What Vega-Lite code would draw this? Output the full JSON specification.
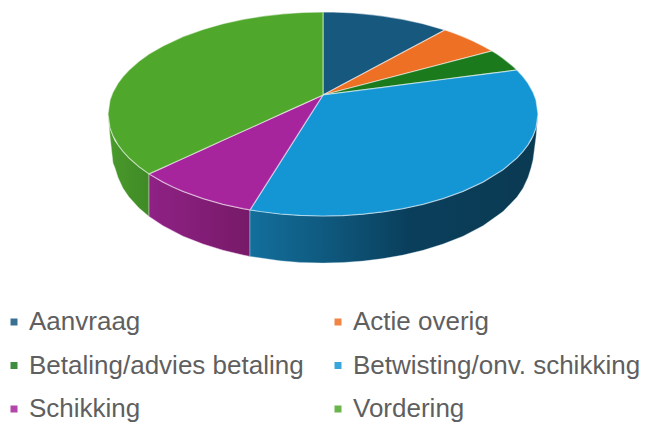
{
"$schema":"https://vega.github.io/schema/vega-lite/v6.json",
"width":652,"height":425,"padding":0,"autosize":{"type":"none"},
"background":"white","view":{"stroke":null},
"datasets":{
"top":[
{"slice":"Aanvraag","x":323,"y":12,"y2":95},{"slice":"Aanvraag","x":333,"y":12.1,"y2":89.7},{"slice":"Aanvraag","x":343,"y":12.4,"y2":84.3},{"slice":"Aanvraag","x":353,"y":13,"y2":79},{"slice":"Aanvraag","x":363,"y":13.8,"y2":73.7},{"slice":"Aanvraag","x":373,"y":14.8,"y2":68.4},{"slice":"Aanvraag","x":383,"y":16.1,"y2":63},{"slice":"Aanvraag","x":403,"y":19.3,"y2":52.4},{"slice":"Aanvraag","x":423,"y":23.7,"y2":41.7},{"slice":"Aanvraag","x":443,"y":29.4,"y2":31},{"slice":"Aanvraag","x":445,"y":30,"y2":30},
{"slice":"Actie overig","x":323,"y":95,"y2":95},{"slice":"Actie overig","x":445,"y":30,"y2":63.3},{"slice":"Actie overig","x":453,"y":32.8,"y2":61.2},{"slice":"Actie overig","x":463,"y":36.6,"y2":58.6},{"slice":"Actie overig","x":473,"y":40.9,"y2":56},{"slice":"Actie overig","x":483,"y":45.9,"y2":53.4},{"slice":"Actie overig","x":492,"y":51,"y2":51},
{"slice":"Betaling/advies betaling","x":323,"y":95,"y2":95},{"slice":"Betaling/advies betaling","x":492,"y":51,"y2":73.2},{"slice":"Betaling/advies betaling","x":497,"y":54.1,"y2":72.6},{"slice":"Betaling/advies betaling","x":503,"y":58.2,"y2":71.8},{"slice":"Betaling/advies betaling","x":513,"y":66.3,"y2":70.5},{"slice":"Betaling/advies betaling","x":517,"y":70,"y2":70},
{"slice":"Betwisting/onv. schikking","x":250,"y":209.9,"y2":209.9},{"slice":"Betwisting/onv. schikking","x":260,"y":194.2,"y2":211.5},{"slice":"Betwisting/onv. schikking","x":280,"y":162.7,"y2":214},{"slice":"Betwisting/onv. schikking","x":300,"y":131.2,"y2":215.4},{"slice":"Betwisting/onv. schikking","x":323,"y":95,"y2":216},{"slice":"Betwisting/onv. schikking","x":343,"y":92.4,"y2":215.6},{"slice":"Betwisting/onv. schikking","x":363,"y":89.8,"y2":214.2},{"slice":"Betwisting/onv. schikking","x":383,"y":87.3,"y2":211.9},{"slice":"Betwisting/onv. schikking","x":403,"y":84.7,"y2":208.7},{"slice":"Betwisting/onv. schikking","x":423,"y":82.1,"y2":204.3},{"slice":"Betwisting/onv. schikking","x":443,"y":79.5,"y2":198.6},{"slice":"Betwisting/onv. schikking","x":463,"y":76.9,"y2":191.4},{"slice":"Betwisting/onv. schikking","x":483,"y":74.4,"y2":182.1},{"slice":"Betwisting/onv. schikking","x":503,"y":71.8,"y2":169.8},{"slice":"Betwisting/onv. schikking","x":517,"y":70,"y2":158},{"slice":"Betwisting/onv. schikking","x":523,"y":76.6,"y2":151.4},{"slice":"Betwisting/onv. schikking","x":528,"y":83.2,"y2":144.8},{"slice":"Betwisting/onv. schikking","x":533,"y":92.1,"y2":135.9},{"slice":"Betwisting/onv. schikking","x":536,"y":100.1,"y2":127.9},{"slice":"Betwisting/onv. schikking","x":538,"y":114,"y2":114},
{"slice":"Schikking","x":149,"y":173.9,"y2":173.9},{"slice":"Schikking","x":163,"y":167.6,"y2":182.1},{"slice":"Schikking","x":173,"y":163,"y2":187.1},{"slice":"Schikking","x":183,"y":158.5,"y2":191.4},{"slice":"Schikking","x":203,"y":149.4,"y2":198.6},{"slice":"Schikking","x":223,"y":140.3,"y2":204.3},{"slice":"Schikking","x":243,"y":131.3,"y2":208.7},{"slice":"Schikking","x":250,"y":128.1,"y2":209.9},{"slice":"Schikking","x":270,"y":119,"y2":178.4},{"slice":"Schikking","x":290,"y":109.9,"y2":146.9},{"slice":"Schikking","x":310,"y":100.9,"y2":115.4},{"slice":"Schikking","x":323,"y":95,"y2":95},
{"slice":"Vordering","x":108,"y":114,"y2":114},{"slice":"Vordering","x":110,"y":100.1,"y2":127.9},{"slice":"Vordering","x":113,"y":92.1,"y2":135.9},{"slice":"Vordering","x":118,"y":83.2,"y2":144.8},{"slice":"Vordering","x":123,"y":76.6,"y2":151.4},{"slice":"Vordering","x":129,"y":70,"y2":158},{"slice":"Vordering","x":139,"y":61.2,"y2":166.8},{"slice":"Vordering","x":149,"y":54.1,"y2":173.9},{"slice":"Vordering","x":163,"y":45.9,"y2":167.6},{"slice":"Vordering","x":183,"y":36.6,"y2":158.5},{"slice":"Vordering","x":203,"y":29.4,"y2":149.4},{"slice":"Vordering","x":223,"y":23.7,"y2":140.3},{"slice":"Vordering","x":243,"y":19.3,"y2":131.3},{"slice":"Vordering","x":263,"y":16.1,"y2":122.2},{"slice":"Vordering","x":283,"y":13.8,"y2":113.1},{"slice":"Vordering","x":303,"y":12.4,"y2":104.1},{"slice":"Vordering","x":323,"y":12,"y2":95}
],
"wallGreen":[
{"x":108,"y":114,"y2":114},{"x":110,"y":127.9,"y2":136},{"x":113,"y":135.9,"y2":163},{"x":115,"y":141,"y2":168},{"x":118,"y":144.8,"y2":177.4},{"x":123,"y":151.4,"y2":188.3},{"x":129,"y":158,"y2":197.1},{"x":139,"y":166.8,"y2":208},{"x":149,"y":173.9,"y2":216.4}
],
"wallPurple":[
{"x":149,"y":173.9,"y2":216.4},{"x":163,"y":182.1,"y2":225.8},{"x":183,"y":191.4,"y2":236.2},{"x":203,"y":198.6,"y2":244.1},{"x":223,"y":204.3,"y2":250.3},{"x":243,"y":208.7,"y2":255.1},{"x":250,"y":209.9,"y2":256.4}
],
"wallBlue":[
{"x":250,"y":209.9,"y2":256.4},{"x":280,"y":214,"y2":260.8},{"x":300,"y":215.4,"y2":262.4},{"x":323,"y":216,"y2":263},{"x":343,"y":215.6,"y2":262.5},{"x":363,"y":214.2,"y2":261.1},{"x":383,"y":211.9,"y2":258.6},{"x":403,"y":208.7,"y2":255.1},{"x":423,"y":204.3,"y2":250.3},{"x":443,"y":198.6,"y2":244.1},{"x":463,"y":191.4,"y2":236.2},{"x":483,"y":182.1,"y2":225.8},{"x":503,"y":169.8,"y2":211.6},{"x":517,"y":158,"y2":197.1},{"x":523,"y":151.4,"y2":188.3},{"x":528,"y":144.8,"y2":177.4},{"x":531,"y":140.2,"y2":168},{"x":533,"y":135.9,"y2":160},{"x":536,"y":127.9,"y2":137},{"x":538,"y":114,"y2":114}
]
},
"encoding":{
"x":{"field":"x","type":"quantitative","scale":{"domain":[0,652],"nice":false,"zero":false},"axis":null},
"y":{"field":"y","type":"quantitative","stack":null,"scale":{"domain":[425,0],"nice":false,"zero":false},"axis":null},
"y2":{"field":"y2"}
},
"layer":[
{"data":{"name":"wallGreen"},"mark":{"type":"area","orient":"vertical","stroke":"#dff0d8","strokeWidth":1,"strokeOpacity":0.4,"fill":{"gradient":"linear","x1":0,"x2":1,"y1":0,"y2":0,"stops":[{"offset":0,"color":"#4a9a2c"},{"offset":1,"color":"#3f8a26"}]}}},
{"data":{"name":"wallPurple"},"mark":{"type":"area","orient":"vertical","stroke":"#f0d0ec","strokeWidth":1,"strokeOpacity":0.5,"fill":{"gradient":"linear","x1":0,"x2":1,"y1":0,"y2":0,"stops":[{"offset":0,"color":"#8f2185"},{"offset":1,"color":"#771a68"}]}}},
{"data":{"name":"wallBlue"},"mark":{"type":"area","orient":"vertical","stroke":"#d0e6f2","strokeWidth":1,"strokeOpacity":0.35,"fill":{"gradient":"linear","x1":0,"x2":1,"y1":0,"y2":0,"stops":[{"offset":0,"color":"#136f9c"},{"offset":0.25,"color":"#0f5a80"},{"offset":0.55,"color":"#0a3f5c"},{"offset":1,"color":"#0b3a52"}]}}},
{"data":{"name":"top"},"mark":{"type":"area","orient":"vertical","stroke":"white","strokeWidth":1.2,"strokeOpacity":0.5},
"encoding":{"color":{"field":"slice","type":"nominal","scale":{"domain":["Aanvraag","Actie overig","Betaling/advies betaling","Betwisting/onv. schikking","Schikking","Vordering"],"range":["#17587f","#ee7024","#1a7a1c","#1596d4","#a6259c","#4fa72b"]},
"legend":{"title":null,"orient":"none","legendX":1,"legendY":309,"columns":2,"direction":"horizontal","symbolType":"square","symbolSize":49,"symbolStrokeWidth":0,"symbolOpacity":0.85,"labelFont":"Liberation Sans","labelFontSize":26,"labelColor":"#5f5f5f","labelOffset":2,"columnPadding":21,"rowPadding":17.5,"labelLimit":340}}}}
]
}
